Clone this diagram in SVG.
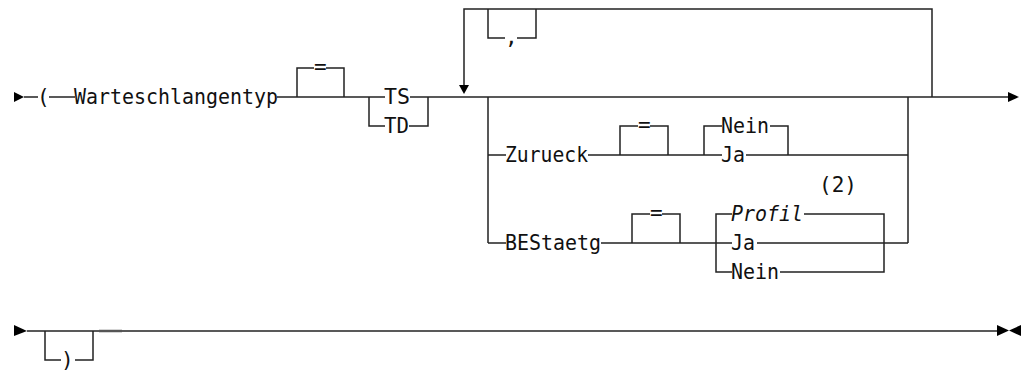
<svg xmlns="http://www.w3.org/2000/svg" width="1026" height="371" viewBox="0 0 1026 371">
  <style>
    .ln { fill: none; stroke: #222; stroke-width: 1.5; }
    .tx { font-family: "DejaVu Sans Mono", "Liberation Mono", monospace; font-size: 21px; fill: #111; }
    .it { font-style: italic; }
    .ah { fill: #000; }
  </style>
  <rect width="1026" height="371" fill="#fff"/>

  <!-- rails and loops -->
  <g id="connectors" class="ln">
    <!-- row 1 main rail -->
    <path d="M24,97 H38"/>
    <path d="M49,97 H75"/>
    <path d="M277,97 H385"/>
    <path d="M410,97 H1008"/>
    <!-- optional "=" after Warteschlangentyp -->
    <path d="M297,97 V68 H314 M326,68 H344 V97"/>
    <!-- TS / TD choice -->
    <path d="M369,97 V126 H385 M409,126 H428 V97"/>
    <!-- repeat loop with separator -->
    <path d="M932,97 V9 H464 V86"/>
    <path d="M488,9 V38 H505 M517,38 H536 V9"/>
    <!-- option stack -->
    <path d="M488,97 V243 M908,97 V243"/>
    <path d="M488,155 H506 M588,155 H722 M746,155 H908"/>
    <path d="M620,155 V126 H638 M650,126 H668 V155"/>
    <path d="M704,155 V126 H722 M770,126 H788 V155"/>
    <path d="M488,243 H506 M601,243 H732 M757,243 H908"/>
    <path d="M632,243 V214 H650 M662,214 H680 V243"/>
    <path d="M716,243 V272 H732 M780,272 H884 V214 H804 M716,243 V214 H732"/>
    <!-- row 2 rail -->
    <path d="M27,331 H998"/>
    <path d="M45,331 V360 H61 M75,360 H93 V331"/>
    <path d="M99,331 H122" stroke="#555" stroke-width="2.5"/>
    <!-- arrowheads -->
    <polygon class="ah" stroke="none" points="14,92 24,97 14,102"/>
    <polygon class="ah" stroke="none" points="459,85 469,85 464,94"/>
    <polygon class="ah" stroke="none" points="1008,92 1019,97 1008,102"/>
    <polygon class="ah" stroke="none" points="14,325 27,331 14,336"/>
    <polygon class="ah" stroke="none" points="997,325 1009,330.5 997,336"/>
    <polygon class="ah" stroke="none" points="1021,325 1009,330.5 1021,336"/>
  </g>

  <g id="open-paren"><text class="tx" x="37" y="104">(</text></g>
  <g id="warteschlangentyp"><text class="tx" x="74" y="104" textLength="204" lengthAdjust="spacingAndGlyphs">Warteschlangentyp</text></g>
  <g id="eq1"><text class="tx" x="314" y="74" font-size="20">=</text></g>
  <g id="ts"><text class="tx" x="384" y="104" textLength="26" lengthAdjust="spacingAndGlyphs">TS</text></g>
  <g id="td"><text class="tx" x="384" y="133" textLength="25" lengthAdjust="spacingAndGlyphs">TD</text></g>
  <g id="comma"><text class="tx" x="505" y="44" font-size="22">,</text></g>

  <g id="zurueck"><text class="tx" x="505" y="162" textLength="83" lengthAdjust="spacingAndGlyphs">Zurueck</text></g>
  <g id="eq2"><text class="tx" x="638" y="132" font-size="20">=</text></g>
  <g id="zurueck-nein"><text class="tx" x="721" y="133" textLength="48" lengthAdjust="spacingAndGlyphs">Nein</text></g>
  <g id="zurueck-ja"><text class="tx" x="721" y="162" textLength="24" lengthAdjust="spacingAndGlyphs">Ja</text></g>

  <g id="bestaetg"><text class="tx" x="505" y="250" textLength="96" lengthAdjust="spacingAndGlyphs">BEStaetg</text></g>
  <g id="eq3"><text class="tx" x="650" y="220" font-size="20">=</text></g>
  <g id="note-2"><text class="tx" x="819" y="192">(2)</text></g>
  <g id="profil"><text class="tx it" x="731" y="221" textLength="72" lengthAdjust="spacingAndGlyphs">Profil</text></g>
  <g id="bestaetg-ja"><text class="tx" x="731" y="250" textLength="24" lengthAdjust="spacingAndGlyphs">Ja</text></g>
  <g id="bestaetg-nein"><text class="tx" x="731" y="279" textLength="48" lengthAdjust="spacingAndGlyphs">Nein</text></g>

  <g id="close-paren"><text class="tx" x="61" y="367">)</text></g>
</svg>
